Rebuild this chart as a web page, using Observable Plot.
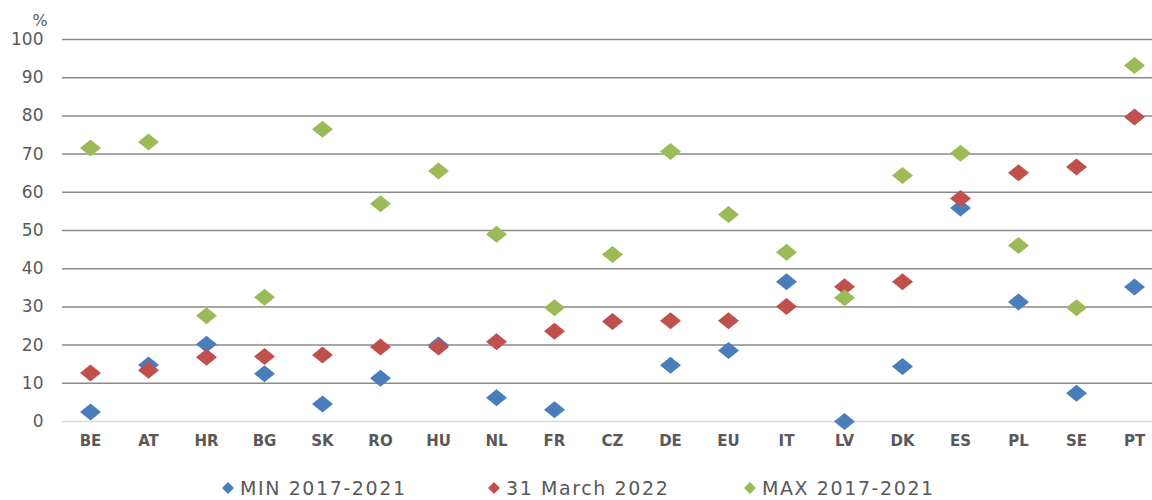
<!DOCTYPE html>
<html>
<head>
<meta charset="utf-8">
<script src="https://cdn.jsdelivr.net/npm/d3@7"></script>
<script src="https://cdn.jsdelivr.net/npm/@observablehq/plot@0.6"></script>
<style>
  body { margin: 0; background: #fff; }
  #chart { width: 1152px; }
  #legend { position: relative; width: 1152px; height: 38px; font-family: "DejaVu Sans", sans-serif; font-size: 19px; color: #595959; }
  .item { position: absolute; top: 0; height: 52px; display: flex; align-items: center; letter-spacing: 1.6px; }
  .item svg { margin-right: 6px; }
</style>
</head>
<body>
<div id="chart"></div>
<div id="legend"></div>
<script>
const categories = ["BE","AT","HR","BG","SK","RO","HU","NL","FR","CZ","DE","EU","IT","LV","DK","ES","PL","SE","PT"];
const minValues = [2.5,14.8,20.2,12.5,4.6,11.3,20.0,6.2,3.1,null,14.7,18.6,36.6,0.0,14.4,55.9,31.3,7.4,35.2];
const march2022 = [12.7,13.4,16.8,17.0,17.4,19.5,19.5,20.9,23.6,26.2,26.4,26.4,30.1,35.3,36.6,58.4,65.1,66.6,79.7];
const maxValues = [71.6,73.2,27.7,32.5,76.5,57.0,65.6,49.0,29.8,43.7,70.7,54.2,44.3,32.4,64.4,70.2,46.1,29.8,93.2];
const seriesNames = ["MIN 2017-2021", "31 March 2022", "MAX 2017-2021"];
const seriesColors = ["#4a7ebb", "#c0504d", "#9bbb59"];
const yTicks = [0,10,20,30,40,50,60,70,80,90,100];

const seriesValues = [minValues, march2022, maxValues];
const rows = [];
seriesNames.forEach((s, si) => {
  categories.forEach((c, i) => {
    const v = seriesValues[si][i];
    if (v != null) rows.push({category: c, series: s, value: v});
  });
});

const diamond = {
  draw(context, size) {
    const w = 10.5, h = 8.5;
    context.moveTo(0, -h);
    context.lineTo(w, 0);
    context.lineTo(0, h);
    context.lineTo(-w, 0);
    context.closePath();
  }
};

const chart = Plot.plot({
  width: 1152,
  height: 462,
  marginLeft: 62,
  marginRight: 0,
  marginTop: 39,
  marginBottom: 41,
  style: {fontFamily: "DejaVu Sans, sans-serif", color: "#595959", background: "#fff"},
  x: {type: "point", domain: categories, range: [90, 1134], padding: 0},
  y: {domain: [0, 100]},
  color: {domain: seriesNames, range: seriesColors},
  marks: [
    Plot.ruleY(yTicks.filter(d => d > 0), {stroke: "#8a8a8a", strokeWidth: 1.5}),
    Plot.ruleY([0], {stroke: "#d9d9d9", strokeWidth: 1.5}),
    Plot.axisY({ticks: yTicks, tickSize: 0, tickPadding: 19, label: null, fontSize: 17, fill: "#595959"}),
    Plot.axisX({tickSize: 0, tickPadding: 14, label: null, fontSize: 15, fontWeight: "bold", fill: "#595959"}),
    Plot.text(["%"], {frameAnchor: "top-left", dx: -30, dy: -25, fontSize: 16, fill: "#595959"}),
    Plot.dot(rows, {x: "category", y: "value", fill: "series", symbol: diamond, r: 5, stroke: "none"})
  ]
});
document.getElementById("chart").appendChild(chart);

const legend = document.getElementById("legend");
const legendX = [222, 488, 744];
seriesNames.forEach((name, i) => {
  const item = document.createElement("div");
  item.className = "item";
  item.style.left = legendX[i] + "px";
  item.innerHTML = `<svg width="12" height="12" viewBox="-6 -6 12 12"><path d="M0,-6L6,0L0,6L-6,0Z" fill="${seriesColors[i]}"/></svg><span>${name}</span>`;
  legend.appendChild(item);
});
</script>
</body>
</html>
